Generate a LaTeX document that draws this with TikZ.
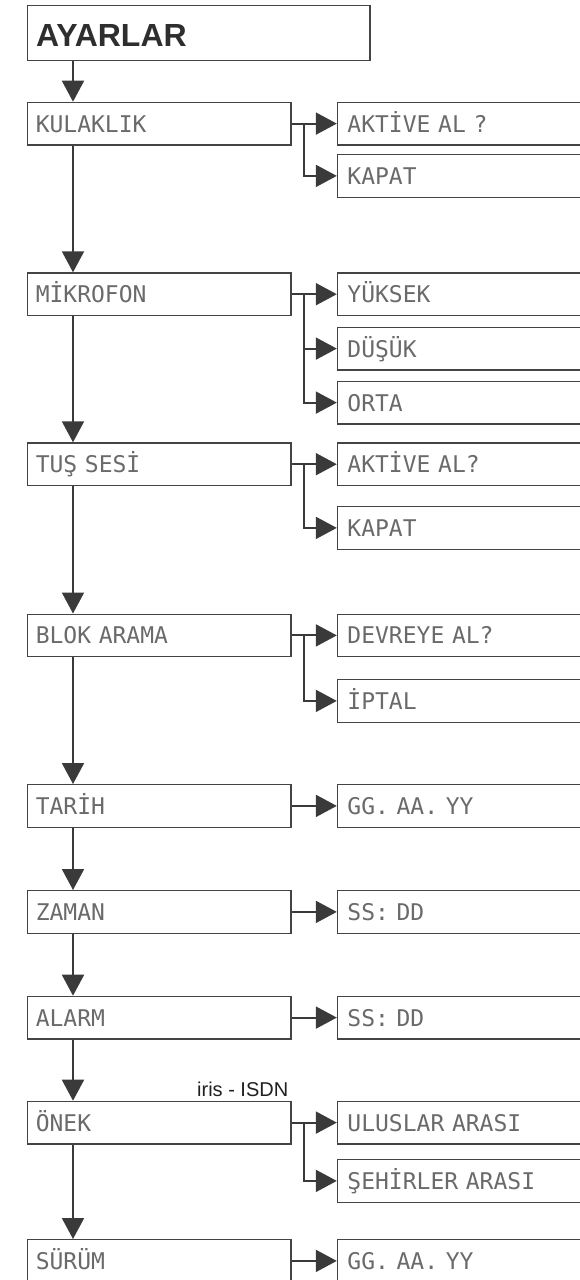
\documentclass[tikz,border=0pt]{standalone}
\usepackage{fontspec}
\setmainfont{Liberation Sans}
\newfontfamily\lcdfont{DejaVu Sans Mono}
\usetikzlibrary{arrows.meta}
\definecolor{linec}{HTML}{3A3A3A}
\definecolor{boxc}{HTML}{444444}
\definecolor{lcdc}{HTML}{6A6A6A}
\tikzset{
  lbox/.style={draw=boxc, line width=1.3pt, rectangle, anchor=north west,
    inner xsep=8.5pt, inner ysep=0pt, text width=246.7pt, align=left,
    minimum height=42.5pt, text height=16.8pt, text depth=0pt,
    font=\lcdfont\fontsize{23pt}{23pt}\selectfont, text=lcdc},
  rbox/.style={lbox, inner xsep=10pt, text width=224.2pt},
  conn/.style={draw=linec, line width=2pt, -{Triangle[length=21pt,width=22pt]}},
}
\begin{document}
\begin{tikzpicture}[x=1pt,y=-1pt]
\useasboundingbox (0,0) rectangle (579,1280);
\coordinate (t) at (73,0);
\coordinate (b) at (304,0);
% title
\node[draw=boxc, line width=1.3pt, anchor=north west, minimum width=342.7pt,
  minimum height=55pt, inner sep=0pt] (ayar) at (26.6,5) {};
\node[anchor=base west, inner sep=0pt, font=\bfseries\fontsize{32pt}{32pt}\selectfont,
  text=black!82] (ayart) at (36,46) {AYARLAR};
% left column
\node[lbox] (kul)   at (26.6,101.7)  {KULAKLIK};
\node[lbox] (mik)   at (26.6,272.3)  {MİKROFON};
\node[lbox] (tus)   at (26.6,442.3)  {TUŞ SESİ};
\node[lbox] (blok)  at (26.6,613.5)  {BLOK ARAMA};
\node[lbox] (tar)   at (26.6,784)    {TARİH};
\node[lbox] (zam)   at (26.6,890)    {ZAMAN};
\node[lbox] (alarm) at (26.6,995.7)  {ALARM};
\node[lbox] (onek)  at (26.6,1100.7) {ÖNEK};
\node[lbox] (sur)   at (26.6,1239)   {SÜRÜM};
% right column
\node[rbox] (akt1)  at (336.8,101.7)  {AKTİVE AL ?};
\node[rbox] (kap1)  at (336.8,154)    {KAPAT};
\node[rbox] (yuk)   at (336.8,272.3)  {YÜKSEK};
\node[rbox] (dus)   at (336.8,326.7)  {DÜŞÜK};
\node[rbox] (orta)  at (336.8,380.7)  {ORTA};
\node[rbox] (akt2)  at (336.8,442.3)  {AKTİVE AL?};
\node[rbox] (kap2)  at (336.8,506)    {KAPAT};
\node[rbox] (dev)   at (336.8,613.5)  {DEVREYE AL?};
\node[rbox] (ipt)   at (336.8,679)    {İPTAL};
\node[rbox] (gg1)   at (336.8,784)    {GG. AA. YY};
\node[rbox] (ss1)   at (336.8,890)    {SS: DD};
\node[rbox] (ss2)   at (336.8,995.7)  {SS: DD};
\node[rbox] (ulus)  at (336.8,1100.7) {ULUSLAR ARASI};
\node[rbox] (sehir) at (336.8,1159)   {ŞEHİRLER ARASI};
\node[rbox] (gg2)   at (336.8,1239)   {GG. AA. YY};
% label
\node[anchor=base east, inner sep=0pt, font=\fontsize{20pt}{20pt}\selectfont,
  text=black!88] (isdn) at (288.5,1096) {iris - ISDN};
% trunk
\draw[conn] (ayar.south -| t) -- (kul.north -| t);
\draw[conn] (kul.south -| t) -- (mik.north -| t);
\draw[conn] (mik.south -| t) -- (tus.north -| t);
\draw[conn] (tus.south -| t) -- (blok.north -| t);
\draw[conn] (blok.south -| t) -- (tar.north -| t);
\draw[conn] (tar.south -| t) -- (zam.north -| t);
\draw[conn] (zam.south -| t) -- (alarm.north -| t);
\draw[conn] (alarm.south -| t) -- (onek.north -| t);
\draw[conn] (onek.south -| t) -- (sur.north -| t);
% branches
\draw[conn] (kul.east) -- (akt1.west);
\draw[conn] (kul.east -| b) |- (kap1.west);
\draw[conn] (mik.east) -- (yuk.west);
\draw[conn] (mik.east -| b) |- (dus.west);
\draw[conn] (mik.east -| b) |- (orta.west);
\draw[conn] (tus.east) -- (akt2.west);
\draw[conn] (tus.east -| b) |- (kap2.west);
\draw[conn] (blok.east) -- (dev.west);
\draw[conn] (blok.east -| b) |- (ipt.west);
\draw[conn] (tar.east) -- (gg1.west);
\draw[conn] (zam.east) -- (ss1.west);
\draw[conn] (alarm.east) -- (ss2.west);
\draw[conn] (onek.east) -- (ulus.west);
\draw[conn] (onek.east -| b) |- (sehir.west);
\draw[conn] (sur.east) -- (gg2.west);
\end{tikzpicture}
\end{document}
